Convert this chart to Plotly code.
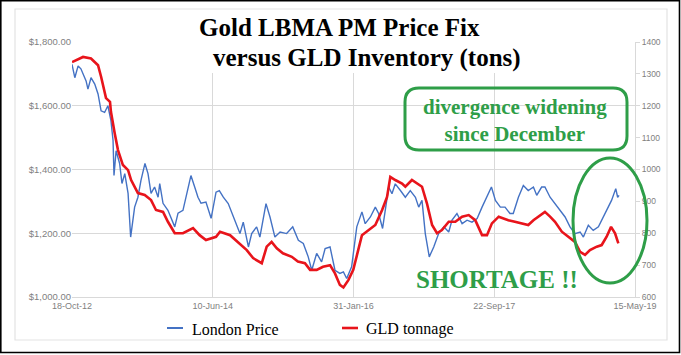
import plotly.graph_objects as go

# ---------------- data ----------------
price_dates = [
    "2012-10-18", "2012-10-30", "2012-11-13", "2012-11-25", "2012-12-17", "2012-12-25",
    "2013-01-07", "2013-01-23", "2013-02-06", "2013-02-19", "2013-03-06", "2013-03-20",
    "2013-04-02", "2013-04-11", "2013-04-15", "2013-04-24", "2013-05-09", "2013-05-19",
    "2013-05-31", "2013-06-14", "2013-06-25", "2013-07-12", "2013-07-26", "2013-08-08",
    "2013-08-25", "2013-09-07", "2013-09-20", "2013-10-05", "2013-10-20", "2013-10-27",
    "2013-11-10", "2013-12-01", "2013-12-30", "2014-01-13", "2014-02-03", "2014-02-16",
    "2014-03-09", "2014-03-25", "2014-04-08", "2014-04-21", "2014-05-12", "2014-06-03",
    "2014-06-24", "2014-07-08", "2014-07-25", "2014-08-15", "2014-09-06", "2014-10-04",
    "2014-10-18", "2014-11-09", "2014-11-23", "2014-12-14", "2014-12-28", "2015-01-23",
    "2015-02-09", "2015-03-02", "2015-03-24", "2015-04-21", "2015-05-17", "2015-06-10",
    "2015-07-01", "2015-07-22", "2015-08-06", "2015-08-27", "2015-09-17", "2015-10-02",
    "2015-10-23", "2015-11-13", "2015-12-04", "2015-12-19", "2016-01-02", "2016-01-23",
    "2016-02-14", "2016-02-28", "2016-03-07", "2016-03-21", "2016-04-12", "2016-05-03",
    "2016-05-17", "2016-06-03", "2016-06-15", "2016-06-29", "2016-07-13", "2016-07-27",
    "2016-08-18", "2016-09-08", "2016-09-29", "2016-10-21", "2016-11-04", "2016-11-18",
    "2016-12-02", "2016-12-19", "2017-01-07", "2017-01-28", "2017-02-19", "2017-03-12",
    "2017-03-26", "2017-04-16", "2017-05-08", "2017-05-29", "2017-06-19", "2017-07-11",
    "2017-08-01", "2017-08-22", "2017-09-10", "2017-09-27", "2017-10-18", "2017-11-07",
    "2017-11-28", "2017-12-12", "2018-01-03", "2018-01-24", "2018-02-14", "2018-03-08",
    "2018-03-22", "2018-04-12", "2018-04-26", "2018-05-18", "2018-06-08", "2018-06-29",
    "2018-07-21", "2018-08-11", "2018-09-01", "2018-09-23", "2018-10-07", "2018-10-28",
    "2018-11-18", "2018-12-10", "2018-12-31", "2019-01-21", "2019-02-04", "2019-02-22",
    "2019-03-02", "2019-03-08",
]
price_values = [
    1730, 1688, 1725, 1716, 1678, 1652,
    1688, 1668, 1637, 1584, 1579, 1600,
    1553, 1491, 1381, 1459, 1419, 1356,
    1387, 1325, 1188, 1282, 1313, 1366,
    1419, 1387, 1325, 1345, 1313, 1356,
    1294, 1272, 1220, 1263, 1272, 1313,
    1381, 1345, 1313, 1294, 1298, 1247,
    1329, 1334, 1313, 1293, 1251, 1199,
    1235, 1157, 1199, 1220, 1188, 1293,
    1251, 1188, 1204, 1199, 1220, 1178,
    1168, 1126, 1084, 1137, 1110, 1152,
    1157, 1084, 1074, 1079, 1058, 1095,
    1220, 1251, 1267, 1230, 1251, 1282,
    1262, 1215, 1282, 1345, 1324, 1355,
    1334, 1313, 1334, 1313, 1282, 1303,
    1199, 1126, 1157, 1199, 1220, 1204,
    1241, 1262, 1230, 1241, 1235, 1246,
    1282, 1313, 1345, 1303, 1282, 1282,
    1262, 1262, 1313, 1350, 1334, 1345,
    1319, 1345, 1345, 1313, 1293, 1272,
    1251, 1220, 1199, 1204, 1188, 1225,
    1209, 1220, 1251, 1282, 1303, 1340,
    1313, 1319,
]

tons_dates = [
    "2012-10-18", "2012-12-04", "2013-01-07", "2013-02-06", "2013-02-19", "2013-03-12",
    "2013-03-29", "2013-04-02", "2013-04-18", "2013-05-02", "2013-05-23", "2013-06-14",
    "2013-06-27", "2013-07-26", "2013-08-24", "2013-09-20", "2013-10-11", "2013-11-10",
    "2013-12-01", "2013-12-30", "2014-02-03", "2014-03-18", "2014-04-15", "2014-05-12",
    "2014-06-24", "2014-07-11", "2014-08-23", "2014-10-04", "2014-11-02", "2014-11-29",
    "2015-01-05", "2015-01-26", "2015-02-16", "2015-03-10", "2015-04-05", "2015-05-13",
    "2015-06-08", "2015-07-08", "2015-07-30", "2015-08-27", "2015-09-23", "2015-10-23",
    "2015-11-13", "2015-12-04", "2015-12-19", "2016-01-09", "2016-01-30", "2016-02-20",
    "2016-03-07", "2016-04-05", "2016-05-03", "2016-06-01", "2016-06-22", "2016-07-06",
    "2016-07-27", "2016-08-25", "2016-09-08", "2016-10-06", "2016-10-28", "2016-11-18",
    "2016-12-09", "2016-12-31", "2017-01-21", "2017-02-11", "2017-03-12", "2017-04-09",
    "2017-05-08", "2017-06-05", "2017-07-03", "2017-08-01", "2017-08-22", "2017-09-12",
    "2017-10-11", "2017-11-21", "2017-12-19", "2018-01-17", "2018-02-14", "2018-03-08",
    "2018-03-29", "2018-04-26", "2018-05-18", "2018-06-08", "2018-07-07", "2018-08-04",
    "2018-09-01", "2018-09-23", "2018-10-14", "2018-11-04", "2018-12-03", "2018-12-24",
    "2019-01-14", "2019-02-02", "2019-02-19", "2019-03-05",
]
tons_values = [
    1337, 1353, 1348, 1327, 1291, 1224,
    1212, 1181, 1114, 1061, 1014, 998,
    967, 926, 920, 904, 873, 867,
    836, 800, 800, 816, 794, 779,
    789, 805, 794, 768, 747, 722,
    706, 758, 773, 753, 737, 726,
    711, 706, 685, 685, 695, 700,
    674, 638, 630, 653, 685, 747,
    794, 810, 826, 873, 914, 977,
    967, 956, 946, 967, 956, 946,
    894, 826, 800, 810, 836, 836,
    852, 857, 841, 794, 794, 831,
    852, 841, 836, 831, 826, 841,
    852, 867, 852, 836, 805, 789,
    773, 742, 732, 747, 758, 763,
    789, 820, 800, 768,
]

x_ticks = ["2012-10-18", "2014-06-10", "2016-01-31", "2017-09-22", "2019-05-15"]
series_names = ["London Price", "GLD tonnage"]
title_lines = ["Gold LBMA PM Price Fix", "versus GLD Inventory (tons)"]
note_text = "divergence widening<br>since December"
shortage_text = "SHORTAGE !!"

# ---------------- figure ----------------
W, H = 681, 355
L, R, T, B = 72, 46, 42, 58
PW, PH = W - L - R, H - T - B


def px(x):
    return (x - L) / PW


def py(y):
    return (H - B - y) / PH


BLUE = "#4472c4"
RED = "#e8141b"
GREEN = "#2e9e48"
GRID = "#d9d9d9"
TICK = "#7f7f7f"

fig = go.Figure()
fig.add_trace(go.Scatter(
    x=price_dates, y=price_values, name=series_names[0], mode="lines",
    line=dict(color=BLUE, width=1.4), yaxis="y", showlegend=False,
))
fig.add_trace(go.Scatter(
    x=tons_dates, y=tons_values, name=series_names[1], mode="lines",
    line=dict(color=RED, width=2.6), yaxis="y2", showlegend=False,
))

shapes = []
# outer black frame
shapes.append(dict(type="rect", xref="paper", yref="paper",
                   x0=px(0.8), x1=px(679.5), y0=py(352.5), y1=py(0.8),
                   line=dict(color="black", width=1.6), fillcolor="rgba(0,0,0,0)", layer="above"))
# inner chart-area frame
shapes.append(dict(type="rect", xref="paper", yref="paper",
                   x0=px(15), x1=px(667), y0=py(340), y1=py(9),
                   line=dict(color="#e3e3e3", width=1.2), fillcolor="rgba(0,0,0,0)", layer="below"))
# white box behind title
shapes.append(dict(type="rect", xref="paper", yref="paper",
                   x0=px(145), x1=px(570), y0=py(73), y1=py(12),
                   line=dict(width=0), fillcolor="white", layer="above"))
# rounded rectangle
x0, x1, y0, y1 = px(405), px(627), py(150), py(88)
rx, ry = 14 / PW, 14 / PH
path = (f"M {x0+rx},{y1} L {x1-rx},{y1} Q {x1},{y1} {x1},{y1-ry} "
        f"L {x1},{y0+ry} Q {x1},{y0} {x1-rx},{y0} L {x0+rx},{y0} "
        f"Q {x0},{y0} {x0},{y0+ry} L {x0},{y1-ry} Q {x0},{y1} {x0+rx},{y1} Z")
shapes.append(dict(type="path", xref="paper", yref="paper", path=path,
                   line=dict(color=GREEN, width=3), layer="above"))
# ellipse
shapes.append(dict(type="circle", xref="paper", yref="paper",
                   x0=px(573), x1=px(647), y0=py(283), y1=py(158),
                   line=dict(color=GREEN, width=3), layer="above"))
# legend samples
shapes.append(dict(type="line", xref="paper", yref="paper",
                   x0=px(167), x1=px(183), y0=py(328), y1=py(328),
                   line=dict(color=BLUE, width=2)))
shapes.append(dict(type="line", xref="paper", yref="paper",
                   x0=px(342), x1=px(358), y0=py(328), y1=py(328),
                   line=dict(color=RED, width=2.6)))

annotations = [
    dict(text=f"<b>{title_lines[0]}</b>", xref="paper", yref="paper",
         x=px(339), y=py(28), showarrow=False, xanchor="center", yanchor="middle",
         font=dict(family="Liberation Serif", size=25, color="black")),
    dict(text=f"<b>{title_lines[1]}</b>", xref="paper", yref="paper",
         x=px(367), y=py(58), showarrow=False, xanchor="center", yanchor="middle",
         font=dict(family="Liberation Serif", size=25, color="black")),
    dict(text=f"<b>{note_text}</b>", xref="paper", yref="paper",
         x=px(515), y=py(120), showarrow=False, xanchor="center", yanchor="middle",
         font=dict(family="Liberation Serif", size=21, color=GREEN)),
    dict(text=f"<b>{shortage_text}</b>", xref="paper", yref="paper",
         x=px(497), y=py(279), showarrow=False, xanchor="center", yanchor="middle",
         font=dict(family="Liberation Serif", size=25, color=GREEN)),
    dict(text=series_names[0], xref="paper", yref="paper",
         x=px(190), y=py(329), showarrow=False, xanchor="left", yanchor="middle",
         font=dict(family="Liberation Serif", size=16, color="black")),
    dict(text=series_names[1], xref="paper", yref="paper",
         x=px(364), y=py(329), showarrow=False, xanchor="left", yanchor="middle",
         font=dict(family="Liberation Serif", size=16, color="black")),
]

fig.update_layout(
    width=W, height=H,
    margin=dict(l=L, r=R, t=T, b=B, autoexpand=False),
    paper_bgcolor="white", plot_bgcolor="white",
    shapes=shapes, annotations=annotations,
    showlegend=False,
    xaxis=dict(type="date", range=[x_ticks[0], x_ticks[-1]], tickvals=x_ticks,
               tickformat="%d-%b-%y", showgrid=True, gridcolor=GRID, gridwidth=1,
               showline=True, linecolor=GRID, zeroline=False, ticks="",
               tickfont=dict(family="Liberation Sans", size=9, color=TICK)),
    yaxis=dict(range=[1000, 1800], dtick=200, tick0=1000, tickformat="$,.2f",
               showgrid=True, gridcolor=GRID, gridwidth=1, zeroline=False,
               showline=False, ticks="",
               tickfont=dict(family="Liberation Sans", size=9.5, color=TICK)),
    yaxis2=dict(range=[600, 1400], dtick=100, tick0=600, overlaying="y", side="right",
                showgrid=False, zeroline=False, showline=True, linecolor=GRID,
                ticks="outside", ticklen=4, tickcolor=GRID,
                tickfont=dict(family="Liberation Sans", size=8.5, color=TICK)),
)

fig.write_html(
    "out.html",
    config={"displayModeBar": False},
    post_script="document.body.style.margin='0';document.body.style.overflow='hidden';",
)
